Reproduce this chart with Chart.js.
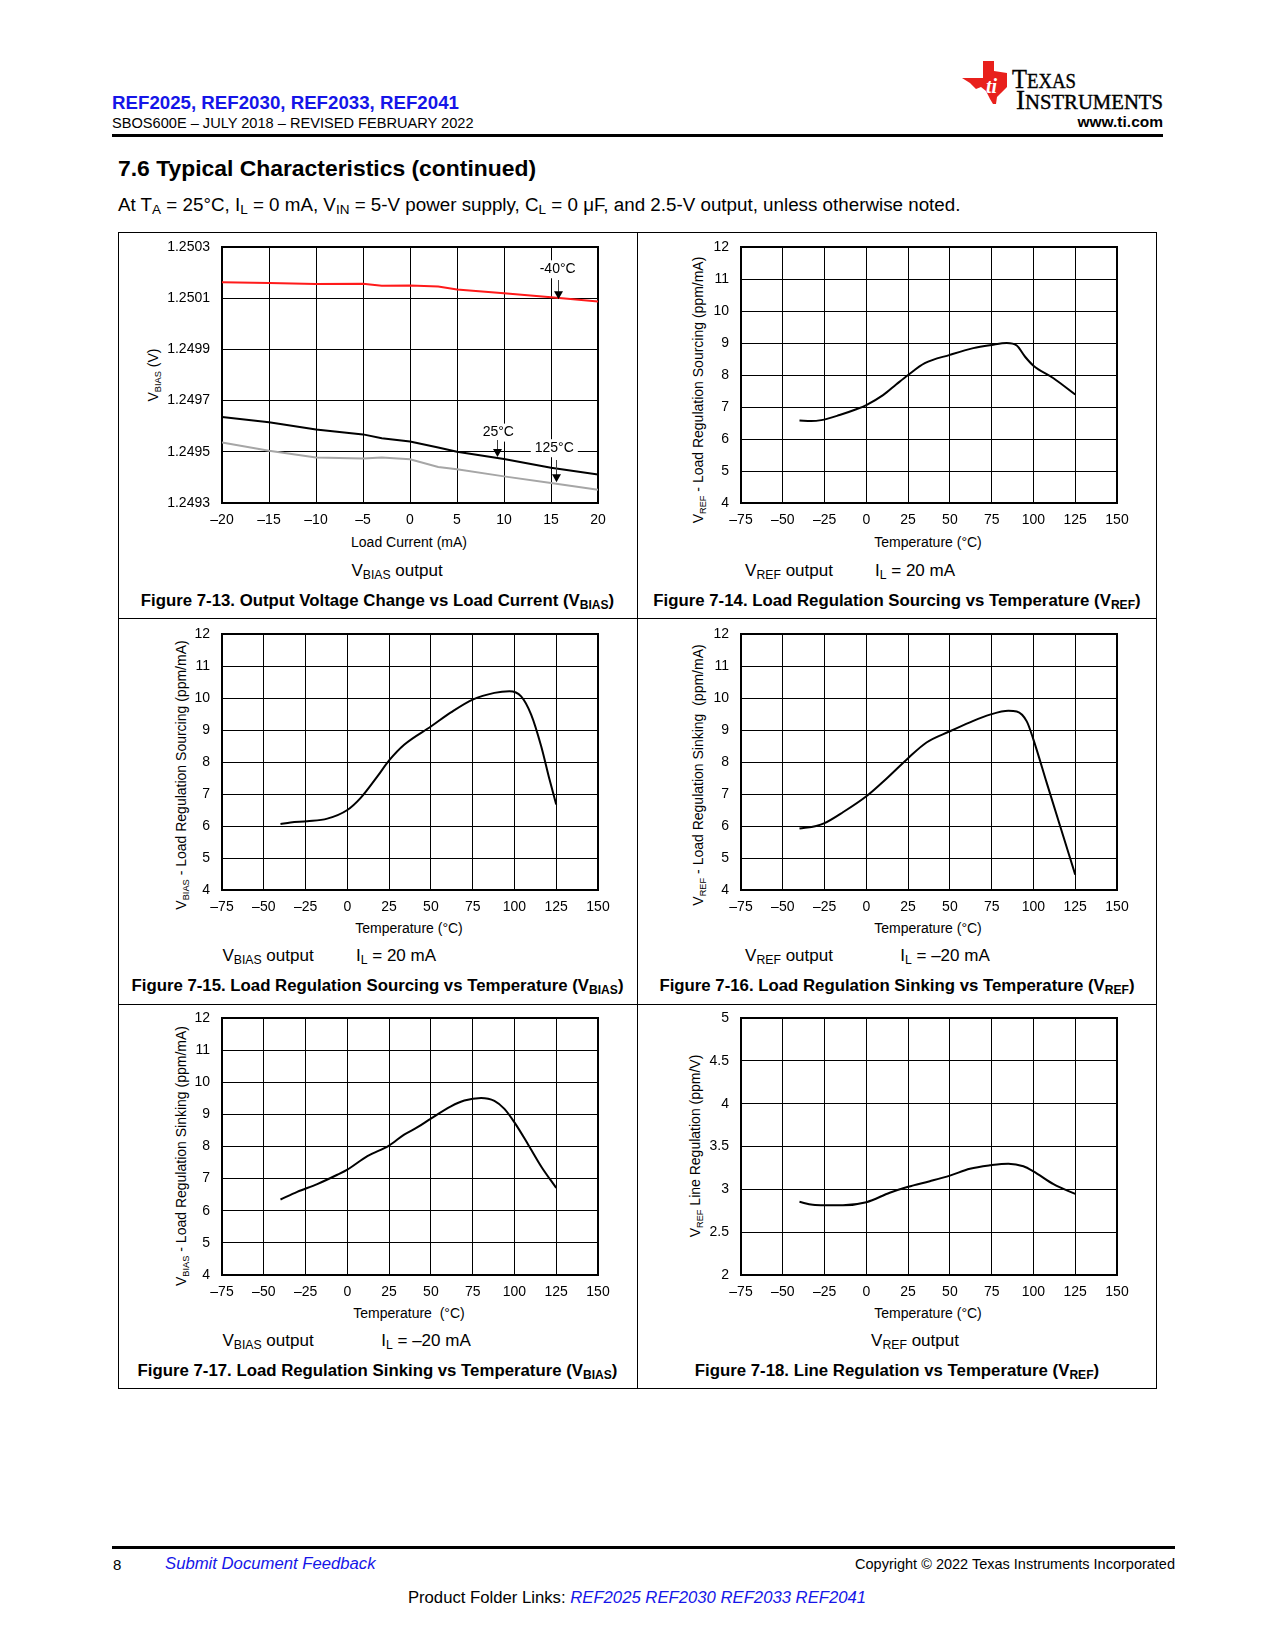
<!DOCTYPE html>
<html>
<head>
<meta charset="utf-8">
<title>REF2025 Typical Characteristics (continued)</title>
<script src="https://cdn.jsdelivr.net/npm/chart.js@4.4.1/dist/chart.umd.min.js"></script>
<style>
html,body{margin:0;padding:0;background:#fff;}
#page{position:relative;width:1275px;height:1650px;overflow:hidden;font-family:"Liberation Sans",Arial,sans-serif;color:#000;}
.a{position:absolute;white-space:nowrap;line-height:1;}
.l{transform:translateY(-50%);}
.c{transform:translate(-50%,-50%);}
.r{transform:translate(-100%,-50%);}
.yt{position:absolute;white-space:nowrap;line-height:1;font-size:14px;transform:translate(-50%,-50%) rotate(-90deg);}
.xt{font-size:14px;}
sub{font-size:0.72em;vertical-align:-0.28em;line-height:0;}
.yt sub{font-size:0.66em;vertical-align:-0.3em;}
.note{font-size:17px;}
.cap{font-size:16.8px;font-weight:bold;}
canvas{position:absolute;}
.bar{position:absolute;background:#000;}
.blue{color:#1515e8;}
</style>
</head>
<body>
<div id="page">
  <!-- header -->
  <div class="a l blue" style="left:112px;top:103px;font-size:18.7px;font-weight:bold">REF2025, REF2030, REF2033, REF2041</div>
  <div class="a l" style="left:112px;top:123px;font-size:14.6px">SBOS600E – JULY 2018 – REVISED FEBRUARY 2022</div>
  <div class="a r" style="left:1163px;top:122px;font-size:15.5px;font-weight:bold">www.ti.com</div>
  <svg style="position:absolute;left:955px;top:55px" width="215" height="60" viewBox="0 0 215 60">
    <polygon fill="#e8201c" points="28,6 39,6 39,16 52,18 52,32 46,38 42,42 41,49 38,49 35,44 31,36 26,32 21,34 15,28 7,23 28,23"/>
    <text x="31" y="38" fill="#fff" font-family="Liberation Serif" font-weight="bold" font-style="italic" font-size="20">ti</text>
    <text x="57" y="33" font-family="Liberation Serif" stroke="#000" stroke-width="0.4" textLength="64" lengthAdjust="spacingAndGlyphs"><tspan font-size="28">T</tspan><tspan font-size="21.5">EXAS</tspan></text>
    <text x="61" y="53.5" font-family="Liberation Serif" stroke="#000" stroke-width="0.4" textLength="147" lengthAdjust="spacingAndGlyphs"><tspan font-size="28">I</tspan><tspan font-size="21.5">NSTRUMENTS</tspan></text>
  </svg>
  <div class="bar" style="left:112px;top:134px;width:1051px;height:3px"></div>
  <div class="a l" style="left:118px;top:168px;font-size:22.9px;font-weight:bold">7.6 Typical Characteristics (continued)</div>
  <div class="a l" style="left:118px;top:205px;font-size:18.8px">At T<sub>A</sub> = 25°C, I<sub>L</sub> = 0 mA, V<sub>IN</sub> = 5-V power supply, C<sub>L</sub> = 0 μF, and 2.5-V output, unless otherwise noted.</div>

  <!-- figure frame -->
  <div style="position:absolute;left:118px;top:232px;width:1039px;height:1157px;border:1px solid #000;box-sizing:border-box"></div>
  <div class="bar" style="left:637px;top:232px;width:1px;height:1157px"></div>
  <div class="bar" style="left:118px;top:618px;width:1039px;height:1px"></div>
  <div class="bar" style="left:118px;top:1004px;width:1039px;height:1px"></div>

  <!-- Figure 7-13 texts -->
  <div class="yt" style="left:153px;top:375px">V<sub>BIAS</sub> (V)</div>
  <div class="a c xt" style="left:409px;top:542px">Load Current (mA)</div>
  <div class="a c note" style="left:397px;top:570px">V<sub>BIAS</sub> output</div>
  <div class="a c cap" style="left:377.5px;top:601px">Figure 7-13. Output Voltage Change vs Load Current (V<sub>BIAS</sub>)</div>

  <!-- Figure 7-14 texts -->
  <div class="yt" style="left:698px;top:390px">V<sub>REF</sub> - Load Regulation Sourcing (ppm/mA)</div>
  <div class="a c xt" style="left:928px;top:542px">Temperature (°C)</div>
  <div class="a c note" style="left:789px;top:570px">V<sub>REF</sub> output</div>
  <div class="a c note" style="left:915px;top:570px">I<sub>L</sub> = 20 mA</div>
  <div class="a c cap" style="left:897px;top:601px">Figure 7-14. Load Regulation Sourcing vs Temperature (V<sub>REF</sub>)</div>

  <!-- Figure 7-15 texts -->
  <div class="yt" style="left:181px;top:775px">V<sub>BIAS</sub> - Load Regulation Sourcing (ppm/mA)</div>
  <div class="a c xt" style="left:409px;top:928px">Temperature (°C)</div>
  <div class="a c note" style="left:268px;top:955px">V<sub>BIAS</sub> output</div>
  <div class="a c note" style="left:396px;top:955px">I<sub>L</sub> = 20 mA</div>
  <div class="a c cap" style="left:377.5px;top:986px">Figure 7-15. Load Regulation Sourcing vs Temperature (V<sub>BIAS</sub>)</div>

  <!-- Figure 7-16 texts -->
  <div class="yt" style="left:698px;top:775px">V<sub>REF</sub> - Load Regulation Sinking&nbsp; (ppm/mA)</div>
  <div class="a c xt" style="left:928px;top:928px">Temperature (°C)</div>
  <div class="a c note" style="left:789px;top:955px">V<sub>REF</sub> output</div>
  <div class="a c note" style="left:945px;top:955px">I<sub>L</sub> = –20 mA</div>
  <div class="a c cap" style="left:897px;top:986px">Figure 7-16. Load Regulation Sinking vs Temperature (V<sub>REF</sub>)</div>

  <!-- Figure 7-17 texts -->
  <div class="yt" style="left:181px;top:1156px">V<sub>BIAS</sub> - Load Regulation Sinking (ppm/mA)</div>
  <div class="a c xt" style="left:409px;top:1313px">Temperature&nbsp; (°C)</div>
  <div class="a c note" style="left:268px;top:1340px">V<sub>BIAS</sub> output</div>
  <div class="a c note" style="left:426px;top:1340px">I<sub>L</sub> = –20 mA</div>
  <div class="a c cap" style="left:377.5px;top:1371px">Figure 7-17. Load Regulation Sinking vs Temperature (V<sub>BIAS</sub>)</div>

  <!-- Figure 7-18 texts -->
  <div class="yt" style="left:695px;top:1146px">V<sub>REF</sub> Line Regulation (ppm/V)</div>
  <div class="a c xt" style="left:928px;top:1313px">Temperature (°C)</div>
  <div class="a c note" style="left:915px;top:1340px">V<sub>REF</sub> output</div>
  <div class="a c cap" style="left:897px;top:1371px">Figure 7-18. Line Regulation vs Temperature (V<sub>REF</sub>)</div>

  <!-- footer -->
  <div class="bar" style="left:112px;top:1546px;width:1063px;height:3px"></div>
  <div class="a l" style="left:113px;top:1564px;font-size:15px">8</div>
  <div class="a l blue" style="left:165px;top:1564px;font-size:16.7px;font-style:italic">Submit Document Feedback</div>
  <div class="a r" style="left:1175px;top:1564px;font-size:14.5px">Copyright © 2022 Texas Instruments Incorporated</div>
  <div class="a c" style="left:637px;top:1598px;font-size:16.7px">Product Folder Links: <i class="blue">REF2025 REF2030 REF2033 REF2041</i></div>
</div>

<script>
// ---------- data ----------
// Figure 7-13: VBIAS vs load current
const loadCurrent   = [-20, -15, -10, -5, -3, 0, 3, 5, 10, 15, 20];
const vbiasMinus40C = [1.250162, 1.250159, 1.250155, 1.250156, 1.250149, 1.250150, 1.250146, 1.250134, 1.250119, 1.250104, 1.250087];
const vbias25C      = [1.249636, 1.249615, 1.249587, 1.249568, 1.249553, 1.249540, 1.249517, 1.249500, 1.249472, 1.249438, 1.249411];
const vbias125C     = [1.249536, 1.249504, 1.249478, 1.249474, 1.249478, 1.249471, 1.249441, 1.249432, 1.249404, 1.249378, 1.249352];

// Figure 7-13 callouts (data coordinates)
const calloutText  = ['-40°C', '25°C', '125°C'];
const calloutX     = [15.71, 9.39, 15.35];
const calloutY     = [1.250213, 1.249575, 1.249514];
const arrowX       = [15.71, 9.29, 15.53];
const arrowFromY   = [1.250171, 1.249546, 1.249468];
const arrowToY     = [1.250096, 1.249480, 1.249381];

// Figure 7-14: VREF load regulation sourcing vs temperature
const tempSrcRef = [-40, -33, -27, -16, -6, 0, 10, 18, 25, 35, 50, 64, 75, 84, 90, 95, 100, 112, 125];
const srcRef     = [6.58, 6.56, 6.59, 6.75, 6.93, 7.06, 7.37, 7.71, 8.00, 8.37, 8.63, 8.84, 8.94, 9.00, 8.92, 8.57, 8.29, 7.90, 7.39];

// Figure 7-15: VBIAS load regulation sourcing vs temperature
const tempSrcBias = [-40, -34, -24, -12, 0, 8, 18, 25, 34, 50, 62, 75, 88, 97, 104, 110, 116, 121, 125];
const srcBias     = [6.06, 6.11, 6.15, 6.23, 6.50, 6.88, 7.55, 8.05, 8.54, 9.11, 9.55, 9.95, 10.16, 10.21, 10.05, 9.48, 8.49, 7.45, 6.67];

// Figure 7-16: VREF load regulation sinking vs temperature
const tempSnkRef = [-40, -30, -25, -14, 0, 12, 25, 36, 50, 62, 74, 85, 90, 96, 100, 108, 116, 125];
const snkRef     = [5.92, 6.00, 6.09, 6.43, 6.93, 7.48, 8.12, 8.61, 8.96, 9.24, 9.48, 9.60, 9.58, 9.27, 8.70, 7.34, 5.99, 4.48];

// Figure 7-17: VBIAS load regulation sinking vs temperature
const tempSnkBias = [-40, -30, -18, -6, 0, 12, 25, 34, 42, 50, 62, 70, 80, 88, 94, 100, 108, 116, 125];
const snkBias     = [6.35, 6.59, 6.83, 7.12, 7.28, 7.70, 8.03, 8.37, 8.60, 8.87, 9.25, 9.43, 9.51, 9.42, 9.17, 8.75, 8.08, 7.38, 6.71];

// Figure 7-18: VREF line regulation vs temperature
const tempLineReg = [-40, -32, -25, -14, 0, 14, 25, 38, 50, 62, 74, 85, 94, 100, 112, 125];
const lineReg     = [2.854, 2.820, 2.815, 2.815, 2.850, 2.960, 3.030, 3.095, 3.160, 3.240, 3.280, 3.300, 3.270, 3.210, 3.060, 2.947];

// tick labels
const currentTicks = [-20, -15, -10, -5, 0, 5, 10, 15, 20];
const vbiasTicks   = [1.2493, 1.2495, 1.2497, 1.2499, 1.2501, 1.2503];
const tempTicks    = [-75, -50, -25, 0, 25, 50, 75, 100, 125, 150];
const ppmTicks     = [4, 5, 6, 7, 8, 9, 10, 11, 12];
const lineRegTicks = [2, 2.5, 3, 3.5, 4, 4.5, 5];

// ---------- layout (plot area rectangles in page px: left, top, width, height) ----------
const plotRects = {
  f13: [222, 247, 376, 256],
  f14: [741, 247, 376, 256],
  f15: [222, 634, 376, 256],
  f16: [741, 634, 376, 256],
  f17: [222, 1018, 376, 257],
  f18: [741, 1018, 376, 257]
};

Chart.defaults.font.family = '"Liberation Sans", Arial, sans-serif';
Chart.defaults.color = '#000';

const page = document.getElementById('page');
const dash = v => (v < 0 ? '\u2013' + Math.abs(v) : String(v));

const framePlugin = {
  id: 'frame',
  beforeDatasetsDraw(chart) {
    const { ctx, chartArea: a } = chart;
    ctx.save();
    ctx.strokeStyle = '#000';
    ctx.lineWidth = 2;
    ctx.strokeRect(a.left, a.top, a.right - a.left, a.bottom - a.top);
    ctx.restore();
  }
};

const calloutPlugin = {
  id: 'callouts',
  afterDatasetsDraw(chart) {
    const { ctx, scales: { x, y } } = chart;
    ctx.save();
    ctx.font = '14px "Liberation Sans", Arial, sans-serif';
    ctx.textAlign = 'center';
    ctx.textBaseline = 'middle';
    calloutText.forEach((t, i) => {
      const tx = x.getPixelForValue(calloutX[i]);
      const ty = y.getPixelForValue(calloutY[i]);
      const w = ctx.measureText(t).width;
      ctx.fillStyle = '#fff';
      ctx.fillRect(tx - w / 2 - 4, ty - 9, w + 8, 18);
      ctx.fillStyle = '#000';
      ctx.fillText(t, tx, ty);
      const ax = Math.round(x.getPixelForValue(arrowX[i])) + 0.5;
      const y0 = y.getPixelForValue(arrowFromY[i]);
      const y1 = y.getPixelForValue(arrowToY[i]);
      ctx.strokeStyle = '#444';
      ctx.lineWidth = 1;
      ctx.beginPath();
      ctx.moveTo(ax, y0);
      ctx.lineTo(ax, y1 - 7);
      ctx.stroke();
      ctx.fillStyle = '#000';
      ctx.beginPath();
      ctx.moveTo(ax - 4.5, y1 - 8);
      ctx.lineTo(ax + 4.5, y1 - 8);
      ctx.lineTo(ax, y1);
      ctx.closePath();
      ctx.fill();
    });
    ctx.restore();
  }
};

function series(xs, ys, color, smooth) {
  return {
    data: xs.map((v, i) => ({ x: v, y: ys[i] })),
    borderColor: color,
    borderWidth: 2,
    pointRadius: 0,
    fill: false,
    tension: smooth ? 0.4 : 0,
    cubicInterpolationMode: smooth ? 'monotone' : 'default'
  };
}

function makeChart(rect, xTicks, yTicks, xFmt, yFmt, datasets, extra) {
  const [L, T, W, H] = rect;
  const padL = 70, padT = 24, padR = 32, padB = 35;
  const cv = document.createElement('canvas');
  const cw = W + padL + padR, ch = H + padT + padB;
  cv.width = cw; cv.height = ch;
  cv.style.left = (L - padL) + 'px';
  cv.style.top = (T - padT) + 'px';
  cv.style.width = cw + 'px';
  cv.style.height = ch + 'px';
  page.appendChild(cv);
  const tickFont = { size: 14, family: '"Liberation Sans", Arial, sans-serif' };
  return new Chart(cv, {
    type: 'line',
    data: { datasets },
    options: {
      responsive: false,
      animation: false,
      layout: { padding: { left: 0, top: padT, right: padR, bottom: 0 } },
      plugins: { legend: { display: false }, tooltip: { enabled: false } },
      scales: {
        x: {
          type: 'linear',
          min: xTicks[0], max: xTicks[xTicks.length - 1],
          afterBuildTicks: s => { s.ticks = xTicks.map(v => ({ value: v })); },
          afterFit: s => { s.height = padB; },
          grid: { color: '#000', lineWidth: 1, drawTicks: false },
          border: { display: false },
          ticks: { padding: 9, color: '#000', font: tickFont, autoSkip: false, maxRotation: 0, callback: xFmt }
        },
        y: {
          type: 'linear',
          min: yTicks[0], max: yTicks[yTicks.length - 1],
          afterBuildTicks: s => { s.ticks = yTicks.map(v => ({ value: v })); },
          afterFit: s => { s.width = padL; },
          grid: { color: '#000', lineWidth: 1, drawTicks: false },
          border: { display: false },
          ticks: { padding: 12, color: '#000', font: tickFont, autoSkip: false, callback: yFmt }
        }
      }
    },
    plugins: [framePlugin].concat(extra || [])
  });
}

const fmt4 = v => v.toFixed(4);
const plain = v => String(v);

makeChart(plotRects.f13, currentTicks, vbiasTicks, dash, fmt4, [
  series(loadCurrent, vbiasMinus40C, '#ff1a1a', false),
  series(loadCurrent, vbias25C, '#000000', false),
  series(loadCurrent, vbias125C, '#a6a6a6', false)
], [calloutPlugin]);

makeChart(plotRects.f14, tempTicks, ppmTicks, dash, plain, [series(tempSrcRef, srcRef, '#000', true)]);
makeChart(plotRects.f15, tempTicks, ppmTicks, dash, plain, [series(tempSrcBias, srcBias, '#000', true)]);
makeChart(plotRects.f16, tempTicks, ppmTicks, dash, plain, [series(tempSnkRef, snkRef, '#000', true)]);
makeChart(plotRects.f17, tempTicks, ppmTicks, dash, plain, [series(tempSnkBias, snkBias, '#000', true)]);
makeChart(plotRects.f18, tempTicks, lineRegTicks, dash, plain, [series(tempLineReg, lineReg, '#000', true)]);
</script>
</body>
</html>
